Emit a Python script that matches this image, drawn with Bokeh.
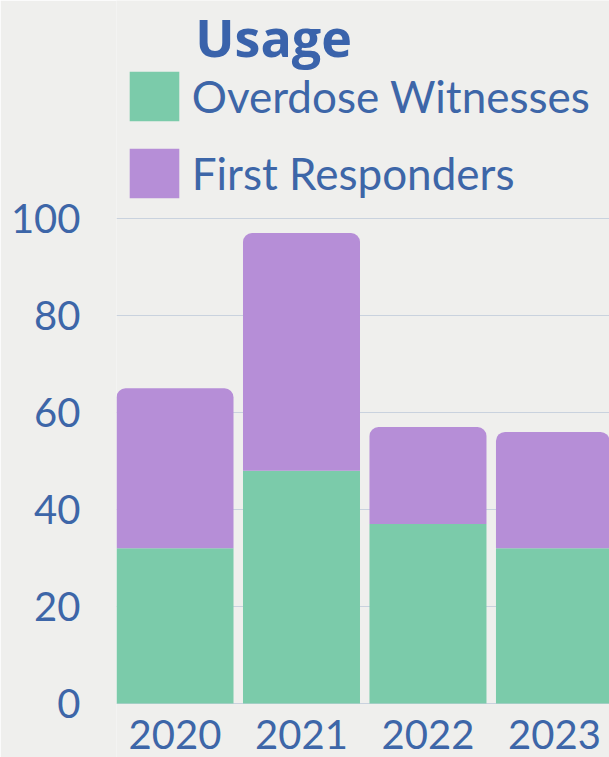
from bokeh.plotting import figure
from bokeh.models import Range1d, FixedTicker, Legend, LegendItem, Label
from bokeh.core.properties import value
from bokeh.embed import file_html
from bokeh.resources import INLINE

years = [2020, 2021, 2022, 2023]
year_labels = ["2020", "2021", "2022", "2023"]
overdose_witnesses = [32, 48, 37, 32]
first_responders = [33, 49, 20, 24]
y_ticks = [0, 20, 40, 60, 80, 100]

GREEN = "#7bcbaa"
PURPLE = "#b68ed7"
BLUE = "#3d66a8"
BG = "#efefed"
FONT = "Lato"

totals = [a + b for a, b in zip(overdose_witnesses, first_responders)]

p = figure(width=609, height=757, output_backend="svg", toolbar_location=None,
           x_range=Range1d(2019.5375, 2023.435), y_range=Range1d(-11.13, 144.95),
           min_border_left=116, min_border_right=0, min_border_top=0, min_border_bottom=0)
p.title.visible = False
p.background_fill_color = BG
p.border_fill_color = BG
p.outline_line_color = None

g = p.vbar(x=years, width=0.925, bottom=0, top=overdose_witnesses, color=GREEN, line_color=None)
r = p.vbar(x=years, width=0.925, bottom=overdose_witnesses, top=totals, color=PURPLE,
           line_color=None, border_radius=(9, 9, 0, 0))

# year labels under the bars
p.text(x=years, y=[-6.4] * len(years), text=year_labels, text_align="center",
       text_baseline="alphabetic", text_font=value(FONT), text_color=BLUE,
       text_font_size="40px")

p.xgrid.visible = False
p.ygrid.ticker = FixedTicker(ticks=y_ticks)
p.ygrid.grid_line_color = "#c9d2de"
p.ygrid.grid_line_width = 1

p.xaxis.visible = False
ax = p.yaxis[0]
ax.ticker = FixedTicker(ticks=y_ticks)
ax.axis_line_color = None
ax.major_tick_line_color = None
ax.minor_tick_line_color = None
ax.major_tick_out = 0
ax.major_tick_in = 0
ax.major_label_text_color = BLUE
ax.major_label_text_font = FONT
ax.major_label_text_font_size = "40px"
ax.major_label_standoff = 36

legend = Legend(items=[LegendItem(label="Overdose Witnesses", renderers=[g]),
                       LegendItem(label="First Responders", renderers=[r])],
                location=(6.75, 552.75), orientation="vertical",
                glyph_width=62, glyph_height=62, label_standoff=7, spacing=15,
                padding=0, margin=0, border_line_color=None, background_fill_alpha=0,
                label_text_font=FONT, label_text_font_size="44px", label_text_color=BLUE,
                label_height=62)
p.add_layout(legend, "center")

title = Label(x=2020.16, y=137.6, text="Usage", text_font="Open Sans", text_font_style="bold",
              text_font_size="52px", text_color="#3a63ab", text_baseline="alphabetic")
p.add_layout(title)

open("out.html", "w").write(file_html(p, INLINE))
